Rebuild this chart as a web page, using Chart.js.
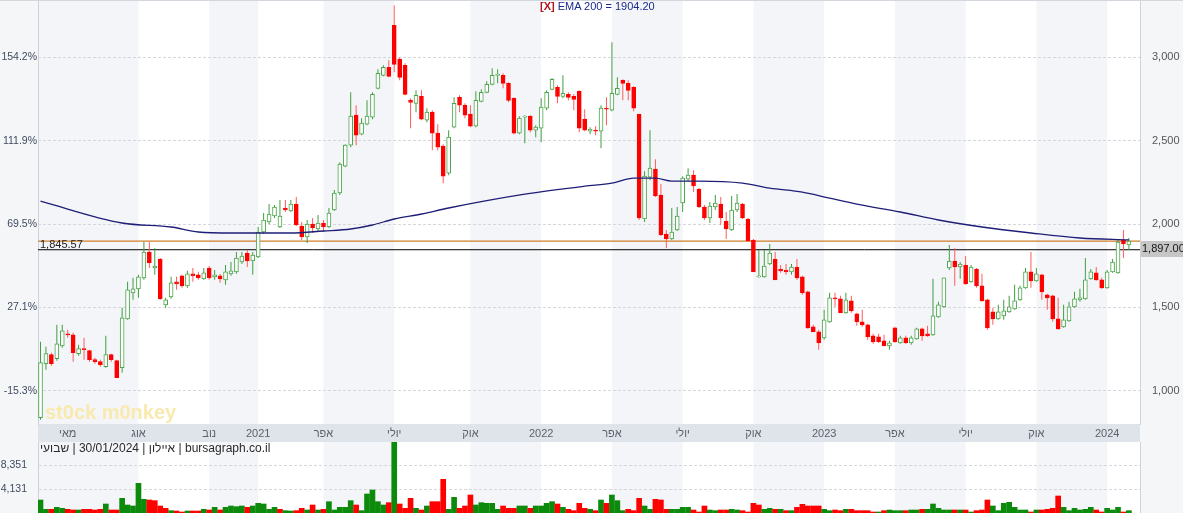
<!DOCTYPE html>
<html>
<head>
<meta charset="utf-8">
<script src="https://cdn.jsdelivr.net/npm/chart.js@4.4.1/dist/chart.umd.min.js"></script>
<style>
  html, body { margin: 0; padding: 0; background: #f5f6f8; }
  #wrap { position: relative; width: 1183px; height: 513px; overflow: hidden;
          font-family: 'Liberation Sans', Arial, sans-serif; }
  #price { position: absolute; left: 0; top: 0; }
  #vol { position: absolute; left: 0; top: 442px; }
  #topline { position: absolute; left: 0; top: 0; width: 1183px; height: 1px; background: #d3d7dd; }
  #ema-title { position: absolute; left: 540px; top: 0; font-size: 11px; line-height: 13px; white-space: nowrap; }
  #ema-title .x { color: #b3141b; font-weight: bold; }
  #ema-title .v { color: #1a2a8c; }
  #src { position: absolute; left: 40px; top: 441px; font-size: 12px; line-height: 14px; color: #2a2a2a; white-space: nowrap; }
</style>
</head>
<body>
<div id="wrap">
  <canvas id="price" width="1183" height="442"></canvas>
  <canvas id="vol" width="1183" height="71"></canvas>
  <div id="topline"></div>
  <div id="ema-title"><span class="x">[X]</span> <span class="v" id="ema-text"></span></div>
  <div id="src" dir="ltr"><bdi>שבועי</bdi> | 30/01/2024 | <bdi>איילון</bdi> | bursagraph.co.il</div>
</div>
<script>
// Weekly candles, index 0 = first week of the series
const weekTicks = [5, 18, 31, 40, 52, 65, 79, 92, 105, 118, 131, 144, 157, 170, 183, 196];
const weekTickLabels = ['מאי', 'אוג', 'נוב', '2021', 'אפר', 'יולי', 'אוק', '2022', 'אפר', 'יולי', 'אוק', '2023', 'אפר', 'יולי', 'אוק', '2024'];
const shadedSpans = [[-1, 18], [31, 40], [52, 65], [79, 92], [105, 118], [131, 144], [157, 170], [183, 196]];

const priceTicks = [1000, 1500, 2000, 2500, 3000];
const changeLabels = ['-15.3%', '27.1%', '69.5%', '111.9%', '154.2%'];
const volumeTicks = [4131, 8351];

const openP = [
  838,1162,1216,1192,1269,1341,1335,1222,1252,1240,
  1186,1174,1144,1216,1180,1138,1431,1587,1611,1677,
  1832,1736,1790,1515,1563,1653,1689,1629,1701,1695,
  1671,1736,1683,1689,1665,1701,1713,1772,1826,1778,
  1802,1952,2012,2048,1982,2096,2078,2120,1988,1922,
  2000,1970,2006,1982,2084,2186,2347,2473,2653,2539,
  2599,2641,2814,2892,2940,3192,2988,2952,2742,2724,
  2766,2623,2671,2545,2467,2305,2581,2760,2713,2659,
  2587,2736,2790,2838,2892,2892,2844,2754,2545,2641,
  2647,2563,2575,2695,2808,2820,2766,2778,2766,2796,
  2629,2557,2563,2557,2695,2683,2778,2862,2844,2820,
  2659,2030,2281,2329,2174,1940,1910,1964,2126,2269,
  2293,2210,2102,2036,2102,2120,2018,1964,2084,2120,
  2030,1904,1683,1683,1760,1790,1730,1724,1713,1742,
  1683,1593,1383,1353,1317,1413,1557,1551,1467,1539,
  1461,1413,1395,1329,1323,1299,1269,1377,1287,1317,
  1287,1311,1371,1341,1335,1443,1503,1736,1778,1742,
  1754,1653,1730,1629,1545,1473,1431,1449,1473,1491,
  1545,1617,1713,1659,1695,1575,1569,1431,1383,1419,
  1503,1545,1551,1671,1707,1665,1617,1713,1707,1904,
  1874
];
const highP = [
  1293,1264,1228,1395,1395,1365,1347,1275,1317,1246,
  1198,1186,1329,1222,1186,1497,1653,1677,1695,1892,
  1892,1856,1796,1557,1683,1683,1695,1719,1736,1713,
  1736,1748,1724,1701,1754,1772,1832,1832,1844,1832,
  1982,2066,2120,2114,2144,2144,2144,2162,2012,2024,
  2036,2054,2024,2096,2204,2371,2479,2790,2713,2635,
  2742,2790,2928,2952,2982,3311,3000,2964,2754,2802,
  2802,2695,2683,2599,2479,2563,2760,2772,2724,2713,
  2796,2808,2856,2934,2928,2904,2850,2760,2647,2653,
  2653,2593,2754,2802,2874,2832,2892,2790,2778,2802,
  2689,2581,2587,2713,2760,3090,2880,2868,2862,2826,
  2659,2317,2563,2389,2240,1964,2096,2102,2287,2335,
  2323,2216,2114,2132,2174,2162,2072,2168,2180,2126,
  2036,1910,1844,1844,1880,1832,1754,1760,1760,1790,
  1689,1599,1395,1365,1485,1587,1587,1569,1587,1569,
  1467,1485,1401,1341,1341,1335,1299,1383,1329,1329,
  1329,1377,1377,1389,1671,1533,1677,1874,1856,1772,
  1808,1754,1736,1701,1551,1497,1515,1545,1569,1635,
  1629,1736,1832,1736,1701,1581,1575,1557,1515,1533,
  1593,1611,1796,1730,1742,1677,1724,1790,1904,1964,
  1916
];
const lowP = [
  826,1126,1150,1180,1258,1317,1174,1210,1186,1174,
  1162,1144,1138,1174,1078,1108,1425,1545,1557,1665,
  1736,1695,1545,1497,1551,1605,1617,1617,1653,1665,
  1665,1665,1665,1647,1635,1689,1701,1760,1742,1695,
  1796,1940,2000,2036,1976,2072,2072,1988,1904,1886,
  1946,1958,1952,1976,2078,2174,2341,2461,2473,2533,
  2593,2629,2808,2886,2880,2910,2862,2772,2575,2671,
  2623,2611,2443,2443,2245,2293,2575,2671,2635,2581,
  2581,2730,2784,2832,2844,2814,2730,2539,2539,2485,
  2551,2521,2491,2683,2802,2724,2754,2742,2683,2551,
  2557,2539,2533,2455,2593,2677,2772,2742,2742,2677,
  2024,2012,2263,2162,1928,1856,1904,1958,2072,2257,
  2192,2096,2024,2006,2084,1994,1910,1958,2072,2030,
  1892,1713,1677,1677,1754,1665,1707,1695,1695,1665,
  1575,1371,1353,1246,1305,1407,1503,1467,1461,1467,
  1389,1383,1305,1281,1287,1269,1246,1287,1281,1281,
  1275,1305,1299,1323,1329,1437,1497,1724,1629,1671,
  1635,1647,1617,1533,1365,1395,1425,1425,1467,1485,
  1539,1611,1617,1653,1545,1485,1413,1365,1377,1413,
  1497,1533,1545,1665,1659,1611,1611,1707,1701,1796,
  1844
];
const closeP = [
  1168,1222,1162,1281,1359,1335,1228,1252,1246,1186,
  1174,1156,1216,1186,1078,1437,1605,1611,1683,1832,
  1766,1748,1551,1545,1647,1641,1629,1701,1689,1677,
  1707,1677,1695,1671,1713,1719,1796,1808,1778,1814,
  1952,2024,2060,2102,2048,2084,2120,1994,1922,2000,
  1976,2006,1982,2066,2186,2359,2473,2647,2533,2605,
  2647,2778,2904,2940,2886,2958,2880,2778,2730,2772,
  2629,2671,2545,2461,2287,2521,2724,2713,2653,2587,
  2742,2790,2838,2892,2898,2844,2742,2545,2635,2647,
  2563,2581,2701,2790,2868,2766,2784,2760,2748,2575,
  2563,2569,2557,2695,2689,2784,2814,2844,2802,2695,
  2036,2287,2335,2168,1934,1910,1952,2048,2275,2293,
  2228,2102,2036,2108,2126,2036,1970,2084,2126,2036,
  1898,1713,1689,1748,1826,1665,1719,1713,1742,1677,
  1587,1377,1353,1287,1425,1557,1551,1467,1545,1479,
  1413,1395,1323,1293,1293,1269,1287,1293,1317,1287,
  1317,1371,1329,1329,1449,1515,1677,1778,1742,1760,
  1641,1742,1629,1539,1377,1431,1473,1479,1503,1539,
  1617,1713,1659,1701,1593,1557,1431,1371,1425,1503,
  1551,1557,1665,1713,1665,1617,1713,1772,1892,1880,
  1897
];
const volume = [
  2285,645,645,996,820,645,527,527,645,645,
  527,645,1582,527,527,2578,1406,1231,5215,2403,
  2285,2168,1231,820,410,352,176,352,352,352,
  645,527,996,527,996,1231,1113,1231,996,1231,
  1700,1582,645,996,645,410,352,410,820,527,
  1406,527,645,1992,527,996,996,2168,1406,410,
  3340,4043,1992,1406,1817,12480,1582,820,2578,820,
  527,1231,1992,1992,5919,645,2754,820,1231,3164,
  1406,1817,1700,1700,645,1231,820,820,1231,1231,
  820,1231,1231,1700,1992,1582,996,645,410,1700,
  820,645,410,2285,1700,3164,2168,410,645,410,
  2578,1231,645,2403,2285,645,645,645,996,996,
  527,176,1231,527,410,527,527,645,527,410,
  176,1700,1406,645,820,645,645,410,410,996,
  1524,1231,1231,1231,645,410,527,410,645,645,
  410,410,410,176,176,410,527,410,410,410,
  527,527,645,645,1582,820,527,527,527,527,
  527,176,410,527,2285,1231,410,1700,1875,996,
  527,527,176,527,527,645,820,2989,996,410,
  820,527,645,996,527,176,820,527,996,176,
  410
];
const emaWeeks = [0, 15, 24, 29, 35, 42, 46, 52, 57, 61, 65, 70, 75, 89, 100, 105, 109, 113, 116, 121, 129, 134, 140, 145, 150, 158, 165, 173, 182, 191, 200];
const emaValues = [2137, 2006, 1982, 1952, 1946, 1946, 1946, 1958, 1970, 1994, 2030, 2060, 2096, 2179, 2227, 2245, 2275, 2275, 2257, 2257, 2245, 2215, 2191, 2155, 2119, 2072, 2024, 1982, 1946, 1916, 1904.2];
const supportLevel = 1845.57;

// Axis ranges
const X_MIN = -0.46, X_MAX = 202.04;
const PRICE_MIN = 800, PRICE_MAX = 3338;
const VOL_MAX = 12480;

const lastClose = closeP[closeP.length - 1];
const fmt2 = v => v.toLocaleString('en-US', { minimumFractionDigits: 2, maximumFractionDigits: 2 });
document.getElementById('ema-text').textContent = 'EMA 200 = ' + emaValues[emaValues.length - 1].toFixed(2);

Chart.defaults.font.family = "'Liberation Sans', Arial, sans-serif";
Chart.defaults.font.size = 11;

const UP_LINE = '#4aa54a', UP_WICK = '#3f9f3f', DOWN = '#ff0000', DOWN_WICK = '#ff5c5c';
const isUp = closeP.map((c, i) => c >= openP[i]);
const volUp = closeP.map((c, i) => i === 0 ? c >= openP[0] : c >= closeP[i - 1]);

const GRID = '#d4d7dc';
const AXIS_LINE = '#cfd3d9';

// Keep every axis from pushing the plot area inwards for label overhang
function noOverhang(s) {
  s.paddingTop = 0; s.paddingBottom = 0; s.paddingLeft = 0; s.paddingRight = 0;
}

// Alternating quarter shading behind the plot area
const bandPlugin = {
  id: 'bands',
  beforeDraw(chart) {
    const { ctx, chartArea: a, scales: { x } } = chart;
    ctx.save();
    ctx.fillStyle = '#ffffff';
    ctx.fillRect(a.left, a.top, a.width, a.height);
    ctx.fillStyle = '#f4f5f8';
    shadedSpans.forEach(([s, e]) => {
      const x0 = Math.max(a.left, x.getPixelForValue(s));
      const x1 = Math.min(a.right, x.getPixelForValue(e));
      if (x1 > x0) ctx.fillRect(x0, a.top, x1 - x0, a.height);
    });
    ctx.restore();
  }
};

const annotatePlugin = {
  id: 'annotate',
  beforeDatasetsDraw(chart) {
    const { ctx, chartArea: a } = chart;
    ctx.save();
    ctx.font = "bold 20px 'Liberation Sans', Arial, sans-serif";
    ctx.fillStyle = '#f8eaae';
    ctx.textBaseline = 'alphabetic';
    ctx.fillText('st0ck m0nkey', a.left + 7, a.bottom - 5);
    ctx.restore();
  },
  afterDraw(chart) {
    const { ctx, chartArea: a, scales: { y } } = chart;
    ctx.save();
    const yc = Math.round(y.getPixelForValue(lastClose));
    ctx.fillStyle = '#c6c6c6';
    ctx.fillRect(a.right + 1, yc, chart.width - a.right - 1, 16);
    ctx.fillStyle = '#151515';
    ctx.font = "11px 'Liberation Sans', Arial, sans-serif";
    ctx.textBaseline = 'middle';
    ctx.textAlign = 'left';
    ctx.fillText(fmt2(lastClose), a.right + 2, yc + 8);
    const ys = y.getPixelForValue(supportLevel);
    ctx.fillStyle = '#222';
    ctx.font = "11px 'Liberation Sans', Arial, sans-serif";
    ctx.textBaseline = 'alphabetic';
    ctx.fillText(fmt2(supportLevel), a.left + 2, ys - 1.5);
    ctx.restore();
  }
};

new Chart(document.getElementById('price'), {
  type: 'bar',
  data: {
    datasets: [
      {
        type: 'line',
        data: emaWeeks.map((w, k) => ({ x: w, y: emaValues[k] })),
        borderColor: '#1e1e78', borderWidth: 1.3, pointRadius: 0,
        cubicInterpolationMode: 'monotone', order: 0
      },
      {
        type: 'bar',
        data: openP.map((o, i) => ({ x: i, y: [o, closeP[i]] })),
        backgroundColor: isUp.map(u => u ? '#ffffff' : DOWN),
        borderColor: isUp.map(u => u ? UP_LINE : DOWN),
        borderWidth: 1, borderSkipped: false, barThickness: 4,
        grouped: false, minBarLength: 1, order: 1
      },
      {
        type: 'bar',
        data: lowP.map((l, i) => ({ x: i, y: [l, highP[i]] })),
        backgroundColor: isUp.map(u => u ? UP_WICK : DOWN_WICK),
        borderWidth: 0, barThickness: 1, grouped: false, inflateAmount: 0, order: 2
      },
      {
        type: 'line',
        data: [{ x: X_MIN, y: lastClose }, { x: X_MAX, y: lastClose }],
        borderColor: '#cf7f2a', borderWidth: 1.2, pointRadius: 0, order: 3
      },
      {
        type: 'line',
        data: [{ x: X_MIN, y: supportLevel }, { x: X_MAX, y: supportLevel }],
        borderColor: '#000000', borderWidth: 1, pointRadius: 0, order: 3
      }
    ]
  },
  options: {
    responsive: false, animation: false, events: [],
    layout: { padding: { top: 1, left: 0, right: 0, bottom: 0 } },
    plugins: { legend: { display: false }, tooltip: { enabled: false } },
    scales: {
      x: {
        type: 'linear', min: X_MIN, max: X_MAX, offset: false, position: 'bottom',
        backgroundColor: '#dfe3ea',
        afterFit(s) { s.height = 18; noOverhang(s); },
        afterBuildTicks(s) { s.ticks = weekTicks.map(v => ({ value: v })); },
        ticks: {
          callback: (v, i) => weekTickLabels[i], autoSkip: false, maxRotation: 0,
          padding: 3, color: '#5b616c', font: { size: 11 }
        },
        grid: { display: false, drawTicks: false },
        border: { display: false }
      },
      y: {
        position: 'right', min: PRICE_MIN, max: PRICE_MAX,
        afterFit(s) { s.width = 43; noOverhang(s); },
        afterBuildTicks(s) { s.ticks = priceTicks.map(v => ({ value: v })); },
        ticks: { callback: v => v.toLocaleString('en-US'), padding: 12, color: '#555', font: { size: 11 } },
        grid: { color: GRID, drawTicks: false },
        border: { display: true, color: AXIS_LINE, dash: [3, 2] }
      },
      yPct: {
        position: 'left', min: PRICE_MIN, max: PRICE_MAX,
        afterFit(s) { s.width = 38; noOverhang(s); },
        afterBuildTicks(s) { s.ticks = priceTicks.map(v => ({ value: v })); },
        ticks: { callback: (v, i) => changeLabels[i], padding: 1, color: '#3f4b61', font: { size: 10.5 } },
        grid: { display: false, drawTicks: false },
        border: { display: true, color: AXIS_LINE }
      }
    }
  },
  plugins: [bandPlugin, annotatePlugin]
});

new Chart(document.getElementById('vol'), {
  type: 'bar',
  data: {
    datasets: [{
      data: volume.map((v, i) => ({ x: i, y: v })),
      backgroundColor: volUp.map(u => u ? '#0b8a0b' : '#ff0000'),
      borderWidth: 0, barThickness: 5, grouped: false
    }]
  },
  options: {
    responsive: false, animation: false, events: [],
    layout: { padding: 0 },
    plugins: { legend: { display: false }, tooltip: { enabled: false } },
    scales: {
      x: { type: 'linear', min: X_MIN, max: X_MAX, offset: false, display: false },
      y: {
        position: 'left', min: 0, max: VOL_MAX,
        afterFit(s) { s.width = 38; noOverhang(s); },
        afterBuildTicks(s) { s.ticks = volumeTicks.map(v => ({ value: v })); },
        ticks: { callback: v => v.toLocaleString('en-US'), padding: 11, color: '#3f4b61', font: { size: 10.5 } },
        grid: { color: GRID, drawTicks: false },
        border: { display: true, color: AXIS_LINE, dash: [3, 2] }
      },
      yRight: {
        position: 'right',
        afterFit(s) { s.width = 43; noOverhang(s); },
        ticks: { display: false },
        grid: { display: false, drawTicks: false },
        border: { display: true, color: AXIS_LINE }
      }
    }
  },
  plugins: [bandPlugin]
});
</script>
</body>
</html>
